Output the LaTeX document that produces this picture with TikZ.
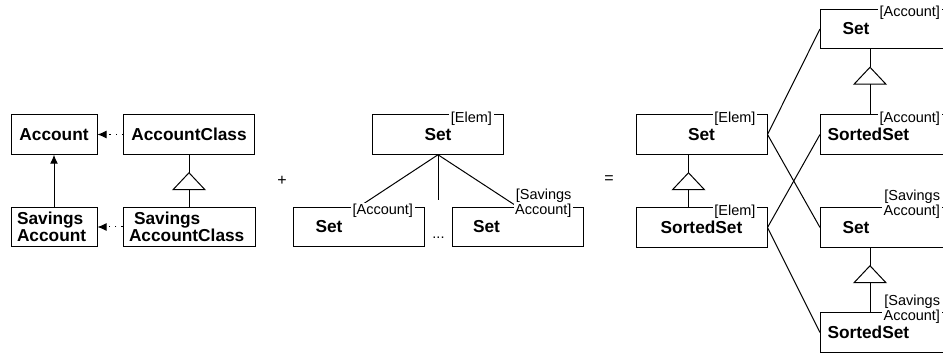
\documentclass[tikz,border=0pt]{standalone}
\usepackage{fontspec}
\setmainfont{Liberation Sans}
\usetikzlibrary{arrows.meta,calc}

% child, parent, x offset of the triangle from the parent's left side
\newcommand{\inherits}[3]{%
  \draw (#2.south west) ++(#3,0) -- ++(0,18) coordinate (apex);
  \draw (apex) -- ++(-16,17) -- ++(32,0) -- cycle;
  \draw (apex) ++(0,17) -- (#1.north west -| apex);
}

\begin{document}
\begin{tikzpicture}[x=1pt,y=-1pt,line width=1pt,>={Latex[length=9pt,width=8pt]},
  box/.style={draw,minimum width=131pt,minimum height=39.5pt,inner sep=0pt,
    font=\bfseries\fontsize{17.3}{15}\selectfont},
  small box/.style={box,minimum width=86pt},
  left box/.style 2 args={align=left,inner xsep=#1,text width=#2},
  tag/.style={fill=white,inner sep=1.5pt,anchor=south east,align=right,
    font=\fontsize{14.5}{15}\selectfont},
  uses/.style={->,dash pattern=on 1.2pt off 5pt}]

\useasboundingbox (0,0) rectangle (943,355);
\clip (0,0) rectangle (943,355);

% classes and their class objects
\node[small box] (acc) at (54,134.5) {Account};
\node[box] (accC) at (189,134.5) {AccountClass};
\node[small box,left box={6pt}{74pt}] (sacc) at (54,227) {Savings\\Account};
\node[box,left box={6pt}{120pt}] (saccC) at (189,227) {\hspace*{5pt}Savings\\AccountClass};

\draw[->] (sacc) -- (acc);
\draw[uses] (accC) -- (acc);
\draw[uses] (saccC) -- (sacc);
\inherits{saccC}{accC}{66}

\node[font=\fontsize{16}{16}\selectfont] (plus) at (282,181) {+};

% generic set and its instances
\node[box] (set) at (438,134.5) {Set};
\node[box,left box={22pt}{87pt}] (setA) at (359,227) {Set};
\node[box,left box={21pt}{89pt}] (setSA) at (517.5,227) {Set};
\coordinate (more) at (438,200);
\node[font=\fontsize{14.5}{15}\selectfont,anchor=base] (dots) at (438.5,239) {...};

\draw (set.south) -- (setA.north);
\draw (set.south) -- (setSA.north);
\draw (set.south) -- (more);

\node[tag] (setT) at ($(set.north east)+(-10,13)$) {[Elem]};
\node[tag] (setAT) at ($(setA.north east)+(-10,13)$) {[Account]};
\node[tag] (setSAT) at ($(setSA.north east)+(-10,13)$) {[Savings\\Account]};

\node[font=\fontsize{16}{16}\selectfont] (eq) at (609,180) {=};

% generic set and sorted set, instantiated twice
\node[box] (rset) at (701.5,134.5) {Set};
\node[box] (rsorted) at (701.5,227.5) {SortedSet};
\node[box,left box={22pt}{87pt}] (aset) at (886,29) {Set};
\node[box,left box={7pt}{117pt}] (asorted) at (886,134.5) {SortedSet};
\node[box,left box={22pt}{87pt}] (sset) at (886,227.5) {Set};
\node[box,left box={7pt}{117pt}] (ssorted) at (886,332.5) {SortedSet};

\inherits{rsorted}{rset}{53}
\inherits{asorted}{aset}{50}
\inherits{ssorted}{sset}{50}

\draw (rset.east) -- (aset.west);
\draw (rset.east) -- (sset.west);
\draw (rsorted.east) -- (asorted.west);
\draw (rsorted.east) -- (ssorted.west);

\node[tag] (rsetT) at ($(rset.north east)+(-10,13)$) {[Elem]};
\node[tag] (rsortedT) at ($(rsorted.north east)+(-10,13)$) {[Elem]};
\node[tag] (asetT) at ($(aset.north east)+(-10,13)$) {[Account]};
\node[tag] (asortedT) at ($(asorted.north east)+(-10,13)$) {[Account]};
\node[tag] (ssetT) at ($(sset.north east)+(-10,13)$) {[Savings\\Account]};
\node[tag] (ssortedT) at ($(ssorted.north east)+(-10,13)$) {[Savings\\Account]};

\end{tikzpicture}
\end{document}
